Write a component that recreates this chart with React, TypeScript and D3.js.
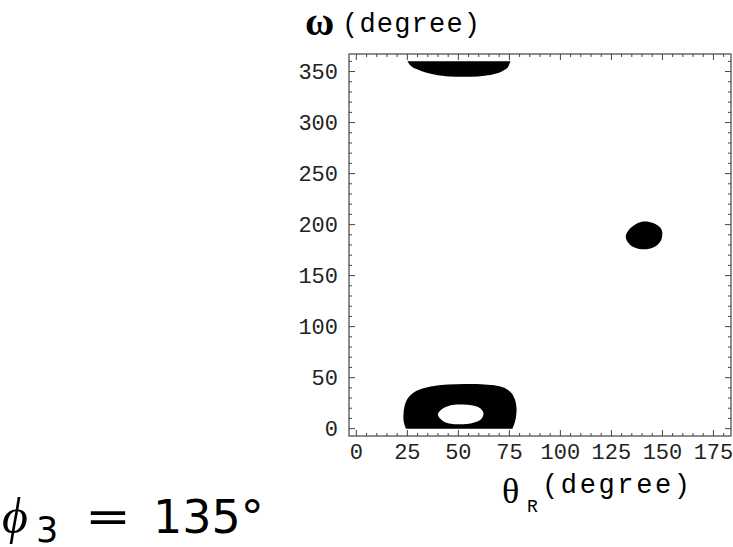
import React, { useEffect, useRef } from 'react';
import * as d3 from 'd3';

// axis ticks (degrees)
const thetaTicks = [0, 25, 50, 75, 100, 125, 150, 175];
const omegaTicks = [0, 50, 100, 150, 200, 250, 300, 350];
const thetaMinor = d3.range(0, 181, 5);
const omegaMinor = d3.range(0, 361, 10);

// black regions, as [thetaR, omega] outlines
const capOutline = [
    [25, 360], [26.5, 356], [29.5, 352.5], [34, 349], [40, 346.3], [48, 345],
    [56, 344.8], [63, 345.8], [68.5, 348], [72.5, 351.5], [74.5, 355], [75.5, 360],
];
const ringOuter = [
    [24.3, 0], [23.2, 7], [23.1, 14], [23.6, 22], [25, 29], [27.5, 34.5], [32, 39],
    [38, 41.8], [45, 43.2], [53, 43.7], [61, 43.6], [67.5, 42.5], [72.5, 40], [76, 35],
    [77.8, 28], [78.5, 20], [78.2, 11], [77.3, 4], [76.5, 0],
];
const ringHole = [
    [40, 14], [41.8, 19], [45.5, 22.5], [51, 23.6], [56.5, 23], [60.5, 20.2], [62.3, 15],
    [61, 9], [56.5, 5.3], [51, 4.4], [45.5, 5], [41.8, 8.5],
];
const dotOutline = [
    [132, 188], [134, 196], [139.5, 202.6], [145.5, 201.5], [149.6, 195], [149.4, 185],
    [146, 178], [140, 175.8], [134.5, 179.5],
];

const App = () => {
    const ref = useRef(null);

    useEffect(() => {
        const svg = d3.select(ref.current);
        svg.selectAll('*').remove();

        const left = 349, right = 731, top = 54, bottom = 436;
        const x = d3.scaleLinear().domain([-3.6, 183.6]).range([left, right]);
        const y = d3.scaleLinear().domain([-7.2, 367.2]).range([bottom, top]);
        const frameColor = '#444';

        svg.append('clipPath').attr('id', 'plot-clip')
            .append('rect').attr('x', left).attr('y', top)
            .attr('width', right - left).attr('height', bottom - top);

        const g = svg.append('g').attr('clip-path', 'url(#plot-clip)');
        const line = d3.line().x((d) => x(d[0])).y((d) => y(d[1]));

        // cap hanging from omega = 360
        g.append('path')
            .attr('d', line.curve(d3.curveMonotoneX)(capOutline) + 'Z')
            .attr('fill', '#000');

        // ring near omega = 0, with its hole
        const outer = line.curve(d3.curveCatmullRom)(ringOuter) + 'Z';
        const hole = line.curve(d3.curveCatmullRomClosed)(ringHole);
        g.append('path')
            .attr('d', outer + hole)
            .attr('fill', '#000')
            .attr('fill-rule', 'evenodd');

        // small island
        g.append('path')
            .attr('d', line.curve(d3.curveCatmullRomClosed)(dotOutline))
            .attr('fill', '#000');

        // frame
        svg.append('rect')
            .attr('x', left).attr('y', top)
            .attr('width', right - left).attr('height', bottom - top)
            .attr('fill', 'none').attr('stroke', frameColor).attr('stroke-width', 1.2);

        // ticks pointing inward on all sides
        const ticks = svg.append('g').attr('stroke', frameColor).attr('stroke-width', 1);
        thetaMinor.forEach((t) => {
            const len = t % 25 === 0 ? 6 : 3;
            ticks.append('line').attr('x1', x(t)).attr('x2', x(t)).attr('y1', bottom).attr('y2', bottom - len);
            ticks.append('line').attr('x1', x(t)).attr('x2', x(t)).attr('y1', top).attr('y2', top + len);
        });
        omegaMinor.forEach((o) => {
            const len = o % 50 === 0 ? 6 : 3;
            ticks.append('line').attr('y1', y(o)).attr('y2', y(o)).attr('x1', left).attr('x2', left + len);
            ticks.append('line').attr('y1', y(o)).attr('y2', y(o)).attr('x1', right).attr('x2', right - len);
        });

        const mono = "'Liberation Mono', 'Courier New', monospace";
        const serif = "'Liberation Serif', 'Times New Roman', serif";
        const sans = "'DejaVu Sans', sans-serif";

        svg.append('g').selectAll('text').data(thetaTicks).enter()
            .append('text')
            .attr('x', (d) => x(d)).attr('y', 459)
            .attr('text-anchor', 'middle')
            .attr('font-family', mono).attr('font-size', 22).attr('fill', '#222')
            .text((d) => d);

        svg.append('g').selectAll('text').data(omegaTicks).enter()
            .append('text')
            .attr('x', 338).attr('y', (d) => y(d) + 7)
            .attr('text-anchor', 'end')
            .attr('font-family', mono).attr('font-size', 22).attr('fill', '#222')
            .text((d) => d);

        // omega axis title
        svg.append('text').attr('x', 305).attr('y', 35)
            .attr('font-family', serif).attr('font-weight', 'bold').attr('font-size', 40)
            .text('ω');
        svg.append('text').attr('x', 342).attr('y', 32)
            .attr('font-family', mono).attr('font-size', 27)
            .attr('textLength', 138).attr('lengthAdjust', 'spacing')
            .text('(degree)');

        // theta axis title
        svg.append('text').attr('x', 502).attr('y', 503)
            .attr('font-family', serif).attr('font-size', 36)
            .text('θ');
        svg.append('text').attr('x', 527).attr('y', 512)
            .attr('font-family', mono).attr('font-size', 18)
            .text('R');
        svg.append('text').attr('x', 542).attr('y', 493)
            .attr('font-family', mono).attr('font-size', 27)
            .attr('textLength', 148).attr('lengthAdjust', 'spacing')
            .text('(degree)');

        // phi_3 annotation
        svg.append('text').attr('x', 2).attr('y', 533)
            .attr('font-family', serif).attr('font-style', 'italic').attr('font-size', 50)
            .text('ϕ');
        svg.append('text').attr('x', 36).attr('y', 542)
            .attr('font-family', sans).attr('font-size', 35)
            .text('3');
        svg.append('text').attr('x', 85).attr('y', 532)
            .attr('font-family', sans).attr('font-size', 44)
            .attr('textLength', 46).attr('lengthAdjust', 'spacingAndGlyphs')
            .text('=');
        svg.append('text').attr('x', 153).attr('y', 533)
            .attr('font-family', sans).attr('font-size', 46)
            .text('135°');
    }, []);

    return (
        <svg ref={ref} width={733} height={547}
            style={{ position: 'absolute', left: 0, top: 0, background: '#fff' }} />
    );
};

export default App;
